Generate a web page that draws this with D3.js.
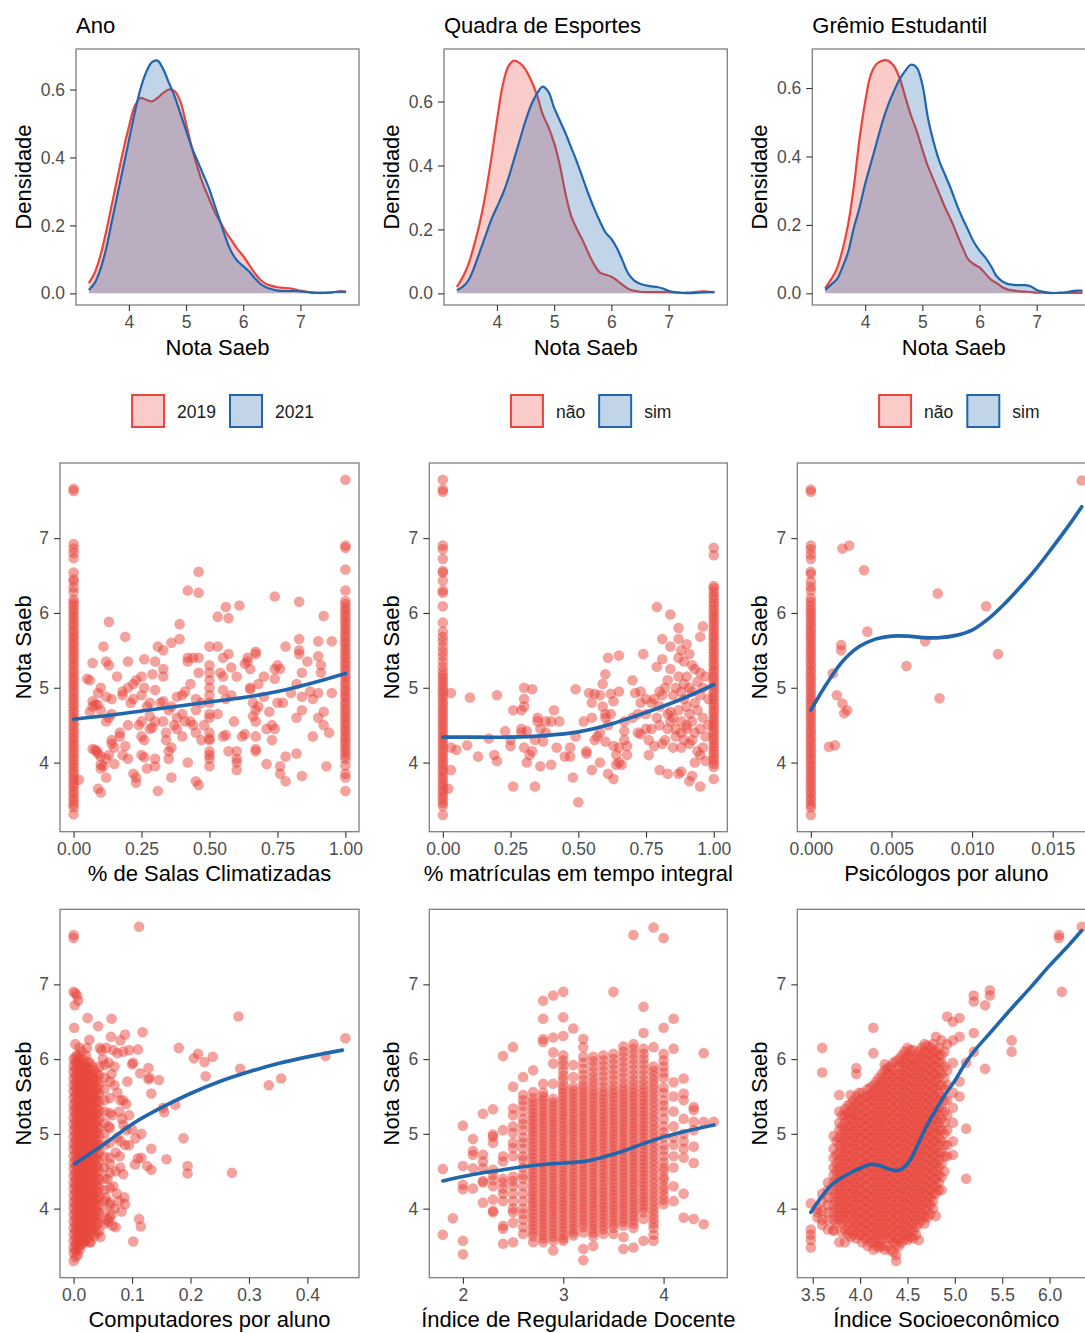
<!DOCTYPE html>
<html lang="pt">
<head>
<meta charset="UTF-8">
<title>Nota Saeb</title>
<script src="https://d3js.org/d3.v7.min.js"></script>
<style>
  body { margin: 0; background: #fff; overflow: hidden; }
  svg { display: block; font-family: "Liberation Sans", Arial, Helvetica, sans-serif; }
</style>
</head>
<body>
<script>
// ---------- data ----------

// density curves: grid of Nota Saeb and density for each group
var notaGrid = [3.3,3.4,3.5,3.6,3.7,3.8,3.9,4.0,4.1,4.2,4.3,4.4,4.5,4.6,4.7,4.8,4.9,5.0,5.1,5.2,5.3,5.4,5.5,5.6,5.7,5.8,5.9,6.0,6.1,6.2,6.3,6.4,6.5,6.6,6.7,6.8,6.9,7.0,7.1,7.2,7.3,7.4,7.5,7.6,7.7,7.8];
var dens2019 = [0.030,0.060,0.110,0.180,0.260,0.340,0.420,0.490,0.550,0.575,0.570,0.565,0.575,0.590,0.600,0.595,0.565,0.500,0.430,0.370,0.320,0.280,0.240,0.210,0.180,0.155,0.130,0.110,0.085,0.060,0.040,0.028,0.022,0.018,0.016,0.015,0.012,0.008,0.005,0.003,0.002,0.002,0.002,0.004,0.006,0.005];
var dens2021 = [0.010,0.030,0.070,0.130,0.210,0.290,0.370,0.450,0.530,0.600,0.650,0.680,0.685,0.660,0.620,0.580,0.530,0.480,0.430,0.390,0.350,0.310,0.260,0.210,0.160,0.120,0.095,0.080,0.065,0.045,0.028,0.018,0.012,0.008,0.007,0.007,0.007,0.006,0.004,0.002,0.001,0.001,0.002,0.004,0.005,0.004];
var quadraNao = [0.020,0.050,0.090,0.150,0.220,0.310,0.420,0.540,0.650,0.710,0.728,0.720,0.700,0.665,0.620,0.560,0.520,0.470,0.400,0.310,0.240,0.200,0.165,0.125,0.090,0.065,0.058,0.052,0.040,0.026,0.014,0.008,0.005,0.004,0.004,0.004,0.004,0.004,0.003,0.002,0.002,0.003,0.005,0.006,0.005,0.004];
var quadraSim = [0.010,0.020,0.040,0.080,0.130,0.180,0.230,0.270,0.310,0.360,0.420,0.480,0.540,0.590,0.625,0.647,0.630,0.580,0.540,0.500,0.455,0.410,0.360,0.310,0.265,0.225,0.190,0.170,0.140,0.100,0.060,0.040,0.030,0.025,0.022,0.020,0.015,0.008,0.004,0.002,0.001,0.001,0.002,0.003,0.004,0.004];
var gremioNao = [0.015,0.040,0.070,0.125,0.200,0.310,0.450,0.560,0.640,0.670,0.680,0.680,0.665,0.630,0.575,0.520,0.475,0.420,0.370,0.330,0.290,0.250,0.215,0.175,0.135,0.100,0.085,0.076,0.058,0.040,0.030,0.018,0.011,0.008,0.006,0.005,0.004,0.002,0.002,0.001,0.001,0.001,0.001,0.001,0.001,0.001];
var gremioSim = [0.010,0.025,0.040,0.075,0.120,0.190,0.250,0.320,0.380,0.440,0.500,0.550,0.590,0.625,0.650,0.668,0.660,0.610,0.510,0.440,0.385,0.345,0.305,0.260,0.220,0.185,0.150,0.125,0.105,0.080,0.050,0.035,0.027,0.025,0.024,0.024,0.020,0.010,0.005,0.002,0.001,0.002,0.003,0.006,0.008,0.008];

var densTitles = ["Ano", "Quadra de Esportes", "Grêmio Estudantil"];
var densLevels = [["2019", "2021"], ["não", "sim"], ["não", "sim"]];

// tick labels
var densXTicks = [4, 5, 6, 7];
var densYTicks = [0, 0.2, 0.4, 0.6];
var notaTicks = [4, 5, 6, 7];
var fracTicks = [0, 0.25, 0.5, 0.75, 1];
var psicTicks = [0, 0.005, 0.01, 0.015];
var compTicks = [0, 0.1, 0.2, 0.3, 0.4];
var regTicks = [2, 3, 4];
var iseTicks = [3.5, 4.0, 4.5, 5.0, 5.5, 6.0];

// % de Salas Climatizadas
var salasAt0 = [3.31,3.40,3.44,3.49,3.53,3.58,3.62,3.67,3.71,3.76,3.80,3.85,3.89,3.94,3.98,4.03,4.07,4.12,4.16,4.21,4.25,4.30,4.34,4.39,4.43,4.48,4.52,4.57,4.61,4.66,4.70,4.75,4.79,4.84,4.88,4.93,4.97,5.02,5.06,5.11,5.15,5.20,5.24,5.29,5.33,5.38,5.42,5.47,5.51,5.56,5.60,5.65,5.69,5.74,5.78,5.83,5.87,5.92,5.96,6.01,6.05,6.10,6.14,6.18,6.28,6.34,6.42,6.45,6.54,6.73,6.80,6.86,6.92,7.63,7.66];
var salasAt1 = [3.62,3.80,3.85,3.96,4.05,4.09,4.14,4.18,4.23,4.27,4.32,4.36,4.41,4.45,4.50,4.54,4.59,4.63,4.68,4.72,4.77,4.81,4.86,4.90,4.95,4.99,5.04,5.08,5.13,5.17,5.22,5.26,5.31,5.35,5.40,5.44,5.49,5.53,5.58,5.62,5.67,5.71,5.76,5.80,5.85,5.89,5.94,5.98,6.03,6.07,6.12,6.16,6.30,6.58,6.87,6.90,7.78];
var salasMid = [[0.02,3.77],[0.05,5.12],[0.06,5.10],[0.06,4.68],[0.07,4.82],[0.07,4.75],[0.07,4.18],[0.08,4.17],[0.085,4.15],[0.09,4.12],[0.10,4.08],[0.09,3.65],[0.10,3.60],[0.07,5.33],[0.09,4.93],[0.10,5.00],[0.09,4.77],[0.08,4.78],[0.10,4.70],[0.10,3.97],[0.11,3.95],[0.10,3.92],[0.12,5.35],[0.13,5.30],[0.11,5.55],[0.12,4.05],[0.13,4.10],[0.12,4.55],[0.13,4.60],[0.14,4.65],[0.12,4.88],[0.14,4.85],[0.13,5.88],[0.14,4.30],[0.14,4.25],[0.12,3.80],[0.15,4.20],[0.16,5.15],[0.15,3.98],[0.17,4.35],[0.17,4.40],[0.18,4.90],[0.18,4.95],[0.19,5.68],[0.19,4.22],[0.20,5.35],[0.18,4.10],[0.20,4.05],[0.21,4.80],[0.22,4.85],[0.22,5.05],[0.20,5.00],[0.23,5.10],[0.20,4.50],[0.22,3.85],[0.23,3.80],[0.23,3.73],[0.25,4.55],[0.24,4.50],[0.25,4.90],[0.26,5.00],[0.25,5.15],[0.26,5.38],[0.25,4.10],[0.26,4.07],[0.25,4.35],[0.26,4.30],[0.27,4.75],[0.28,4.80],[0.28,4.62],[0.27,3.92],[0.29,5.18],[0.28,4.45],[0.29,4.47],[0.30,4.97],[0.30,4.55],[0.30,5.35],[0.31,5.55],[0.30,3.95],[0.30,4.05],[0.31,3.62],[0.32,4.80],[0.33,4.82],[0.33,5.25],[0.33,5.15],[0.33,5.50],[0.33,4.55],[0.34,4.40],[0.34,4.30],[0.35,4.15],[0.35,4.05],[0.36,4.20],[0.36,3.80],[0.36,5.60],[0.35,4.70],[0.36,4.75],[0.37,4.50],[0.38,4.45],[0.38,4.88],[0.39,5.85],[0.39,5.65],[0.38,4.60],[0.40,4.65],[0.40,4.90],[0.40,4.35],[0.41,4.55],[0.41,4.95],[0.42,5.35],[0.42,5.40],[0.42,6.30],[0.42,4.00],[0.43,5.05],[0.43,4.55],[0.44,5.40],[0.44,4.50],[0.45,3.75],[0.45,4.40],[0.45,4.70],[0.45,4.85],[0.46,5.40],[0.46,5.20],[0.46,6.27],[0.46,6.55],[0.46,3.70],[0.47,4.80],[0.47,4.30],[0.48,4.50],[0.50,4.80],[0.50,5.00],[0.50,5.10],[0.50,5.20],[0.50,5.30],[0.50,5.55],[0.50,4.10],[0.50,4.15],[0.50,4.30],[0.50,4.32],[0.50,3.95],[0.50,4.05],[0.50,4.60],[0.50,4.65],[0.50,4.40],[0.50,4.90],[0.53,4.65],[0.53,5.55],[0.53,5.95],[0.54,5.20],[0.55,5.15],[0.55,5.40],[0.55,4.97],[0.56,4.85],[0.56,4.37],[0.55,4.35],[0.56,6.08],[0.57,5.93],[0.57,5.45],[0.57,4.15],[0.58,5.27],[0.58,4.90],[0.59,4.55],[0.60,5.15],[0.60,4.15],[0.60,4.05],[0.60,4.00],[0.60,3.90],[0.61,6.10],[0.62,4.35],[0.63,4.38],[0.63,5.32],[0.64,5.35],[0.64,5.40],[0.65,5.00],[0.65,4.98],[0.65,5.25],[0.66,4.80],[0.66,4.62],[0.67,5.48],[0.67,5.45],[0.67,4.70],[0.67,4.55],[0.67,4.35],[0.67,4.18],[0.67,4.15],[0.68,4.75],[0.68,5.05],[0.70,4.88],[0.70,5.15],[0.71,4.45],[0.71,3.98],[0.72,4.68],[0.73,4.30],[0.73,4.50],[0.74,6.22],[0.74,5.25],[0.74,5.12],[0.74,4.45],[0.75,5.30],[0.75,4.80],[0.76,3.95],[0.76,3.85],[0.76,5.25],[0.77,4.80],[0.78,3.75],[0.78,5.55],[0.78,4.08],[0.80,4.93],[0.82,5.05],[0.82,4.60],[0.82,4.12],[0.83,6.15],[0.83,5.65],[0.83,5.50],[0.83,5.45],[0.84,5.20],[0.84,4.88],[0.84,4.70],[0.84,3.82],[0.86,5.35],[0.87,4.95],[0.88,4.85],[0.88,4.35],[0.90,5.62],[0.90,5.42],[0.90,4.93],[0.90,4.60],[0.91,5.30],[0.91,5.20],[0.92,5.96],[0.92,4.68],[0.92,4.50],[0.93,3.95],[0.94,4.40],[0.95,5.62],[0.95,4.93]];
var salasSmoothX = [0, 0.125, 0.25, 0.375, 0.5, 0.625, 0.75, 0.875, 1];
var salasSmoothY = [4.58, 4.63, 4.69, 4.75, 4.81, 4.87, 4.95, 5.06, 5.19];

// % matrículas em tempo integral
var integAt0 = [3.30,3.42,3.46,3.51,3.55,3.60,3.64,3.69,3.73,3.78,3.82,3.87,3.91,3.96,4.00,4.05,4.09,4.14,4.18,4.23,4.27,4.32,4.36,4.41,4.45,4.50,4.54,4.59,4.63,4.68,4.72,4.77,4.81,4.86,4.90,4.95,4.99,5.04,5.08,5.13,5.17,5.22,5.28,5.35,5.42,5.48,5.55,5.62,5.68,5.75,5.87,6.09,6.27,6.30,6.43,6.54,6.56,6.72,6.85,6.90,7.62,7.65,7.78];
var integAt1 = [3.78,3.94,3.98,4.03,4.07,4.12,4.16,4.21,4.25,4.30,4.34,4.39,4.43,4.48,4.52,4.57,4.61,4.66,4.70,4.75,4.79,4.84,4.88,4.93,4.97,5.02,5.06,5.11,5.15,5.20,5.24,5.29,5.33,5.38,5.42,5.47,5.51,5.56,5.60,5.65,5.69,5.74,5.78,5.83,5.87,5.92,5.96,6.01,6.05,6.10,6.14,6.19,6.23,6.28,6.33,6.36,6.77,6.87];
var integMid = [[0.03,4.93],[0.03,4.20],[0.05,4.17],[0.03,3.90],[0.02,3.65],[0.09,4.23],[0.10,4.87],[0.13,4.08],[0.17,4.32],[0.19,4.10],[0.20,4.02],[0.20,4.90],[0.23,4.42],[0.25,4.30],[0.25,4.22],[0.26,4.70],[0.26,3.68],[0.29,4.40],[0.29,4.45],[0.29,4.70],[0.30,4.85],[0.30,4.75],[0.30,4.20],[0.31,4.42],[0.31,4.00],[0.32,4.10],[0.33,4.15],[0.34,4.30],[0.33,4.98],[0.30,5.00],[0.34,3.68],[0.35,4.55],[0.35,4.60],[0.36,4.45],[0.36,3.95],[0.37,4.28],[0.38,4.40],[0.38,4.55],[0.40,4.55],[0.40,3.97],[0.41,4.70],[0.42,4.20],[0.43,4.55],[0.45,4.08],[0.47,4.20],[0.47,4.08],[0.48,3.80],[0.49,4.35],[0.49,4.98],[0.50,3.47],[0.52,4.55],[0.53,4.15],[0.53,4.12],[0.54,4.93],[0.55,4.60],[0.55,4.80],[0.55,3.90],[0.56,4.30],[0.56,4.92],[0.57,4.35],[0.58,4.40],[0.58,4.90],[0.58,4.00],[0.59,4.75],[0.59,5.05],[0.60,4.60],[0.60,4.28],[0.60,5.18],[0.60,4.65],[0.61,4.50],[0.61,3.85],[0.61,5.40],[0.62,4.65],[0.62,4.92],[0.63,4.82],[0.63,4.22],[0.63,3.78],[0.64,4.10],[0.64,3.97],[0.65,4.20],[0.65,4.00],[0.65,4.95],[0.65,5.43],[0.66,3.97],[0.67,4.55],[0.67,4.42],[0.67,4.30],[0.68,4.22],[0.68,4.10],[0.70,4.60],[0.70,5.10],[0.71,4.93],[0.72,4.40],[0.72,4.65],[0.73,4.80],[0.73,4.38],[0.73,4.95],[0.74,5.45],[0.75,4.85],[0.75,4.65],[0.75,4.45],[0.76,4.10],[0.76,4.30],[0.77,4.80],[0.77,4.45],[0.78,4.22],[0.78,4.85],[0.79,5.28],[0.79,6.08],[0.79,4.60],[0.80,4.50],[0.80,4.75],[0.80,4.95],[0.80,3.90],[0.81,5.38],[0.81,5.65],[0.81,4.90],[0.81,4.25],[0.82,5.00],[0.82,4.30],[0.83,5.10],[0.83,4.65],[0.83,4.45],[0.83,3.85],[0.84,5.98],[0.84,5.55],[0.84,5.25],[0.84,4.68],[0.84,4.55],[0.85,4.90],[0.85,4.60],[0.85,4.20],[0.86,5.00],[0.86,4.45],[0.86,4.35],[0.87,5.80],[0.87,5.65],[0.87,5.40],[0.87,5.15],[0.87,4.70],[0.87,3.85],[0.88,5.50],[0.88,4.95],[0.88,4.55],[0.88,4.40],[0.88,4.20],[0.88,3.88],[0.89,5.35],[0.89,5.05],[0.89,4.85],[0.89,4.30],[0.90,5.58],[0.90,5.15],[0.90,4.75],[0.90,4.50],[0.90,4.45],[0.91,5.45],[0.91,5.00],[0.91,4.65],[0.91,4.25],[0.91,3.75],[0.92,5.30],[0.92,4.95],[0.92,4.55],[0.92,4.30],[0.92,3.82],[0.93,5.25],[0.93,4.80],[0.93,4.40],[0.93,4.00],[0.94,5.08],[0.94,4.70],[0.94,4.15],[0.95,5.68],[0.95,5.20],[0.95,4.90],[0.95,4.45],[0.95,4.10],[0.95,3.68],[0.96,5.82],[0.96,5.00],[0.96,4.60],[0.96,4.20],[0.97,5.15],[0.97,4.35],[0.98,4.85],[0.98,4.50],[0.97,4.02]];
var integSmoothX = [0, 0.125, 0.25, 0.375, 0.5, 0.625, 0.75, 0.875, 1];
var integSmoothY = [4.34, 4.34, 4.34, 4.36, 4.41, 4.52, 4.67, 4.84, 5.04];

// Psicólogos por aluno
var psicAt0 = [3.30,3.40,3.44,3.49,3.53,3.58,3.62,3.67,3.71,3.76,3.80,3.85,3.89,3.94,3.98,4.03,4.07,4.12,4.16,4.21,4.25,4.30,4.34,4.39,4.43,4.48,4.52,4.57,4.61,4.66,4.70,4.75,4.79,4.84,4.88,4.93,4.97,5.02,5.06,5.11,5.15,5.20,5.24,5.29,5.33,5.38,5.42,5.47,5.51,5.56,5.60,5.65,5.69,5.74,5.78,5.83,5.87,5.92,5.96,6.01,6.05,6.10,6.15,6.20,6.30,6.35,6.42,6.52,6.55,6.72,6.78,6.85,6.90,7.62,7.65];
var psicMid = [[0.00112,4.21],[0.00149,4.23],[0.00136,5.19],[0.00161,4.90],[0.00196,4.79],[0.00207,4.66],[0.00225,4.70],[0.00188,5.57],[0.00188,5.50],[0.00196,6.86],[0.00238,6.90],[0.0033,6.57],[0.0035,5.75],[0.00593,5.29],[0.00709,5.62],[0.00787,6.26],[0.00798,4.86],[0.01087,6.09],[0.01161,5.45],[0.0168,7.77]];
var psicSmoothX = [0, 0.001, 0.002, 0.003, 0.004, 0.005, 0.006, 0.007, 0.008, 0.009, 0.010, 0.011, 0.012, 0.013, 0.014, 0.015, 0.016, 0.0168];
var psicSmoothY = [4.70, 5.06, 5.36, 5.55, 5.65, 5.69, 5.69, 5.67, 5.67, 5.70, 5.77, 5.92, 6.12, 6.35, 6.60, 6.88, 7.17, 7.42];

// Computadores por aluno: dense core near zero, read column by column
var compCore = [
  [0.000, [3.30,3.41,3.48,3.57,3.66,3.74,3.83,3.92,4.01,4.09,4.18,4.27,4.35,4.44,4.53,4.61,4.70,4.79,4.87,4.96,5.05,5.13,5.22,5.31,5.39,5.48,5.57,5.65,5.74,5.83,5.91,6.00]],
  [0.0035, [3.35,3.44,3.52,3.61,3.70,3.78,3.87,3.96,4.05,4.13,4.22,4.31,4.39,4.48,4.57,4.65,4.74,4.83,4.91,5.00,5.09,5.17,5.26,5.35,5.43,5.52,5.61,5.69,5.78,5.87,5.95,6.03]],
  [0.007, [3.38,3.47,3.55,3.64,3.73,3.81,3.90,3.99,4.07,4.16,4.25,4.33,4.42,4.51,4.59,4.68,4.77,4.85,4.94,5.03,5.11,5.20,5.29,5.37,5.46,5.55,5.63,5.72,5.81,5.89,5.98,6.06]],
  [0.0105, [3.45,3.51,3.60,3.69,3.77,3.86,3.95,4.03,4.12,4.21,4.29,4.38,4.47,4.55,4.64,4.73,4.81,4.90,4.99,5.07,5.16,5.25,5.33,5.42,5.51,5.59,5.68,5.77,5.85,5.94,6.02]],
  [0.014, [3.52,3.60,3.69,3.78,3.86,3.95,4.04,4.12,4.21,4.30,4.38,4.47,4.56,4.64,4.73,4.82,4.90,4.99,5.08,5.16,5.25,5.34,5.42,5.51,5.60,5.68,5.77,5.86,5.94,6.10]],
  [0.0175, [3.55,3.64,3.73,3.82,3.90,3.99,4.08,4.16,4.25,4.34,4.42,4.51,4.60,4.68,4.77,4.86,4.94,5.03,5.12,5.20,5.29,5.38,5.46,5.55,5.64,5.72,5.81,5.90,5.98]],
  [0.021, [3.57,3.65,3.74,3.83,3.91,4.00,4.09,4.17,4.26,4.35,4.43,4.52,4.61,4.69,4.78,4.87,4.95,5.04,5.13,5.21,5.30,5.39,5.47,5.56,5.65,5.73,5.82,5.91,6.05]],
  [0.0245, [3.60,3.70,3.79,3.87,3.96,4.05,4.13,4.22,4.31,4.39,4.48,4.57,4.65,4.74,4.83,4.91,5.00,5.09,5.17,5.26,5.35,5.43,5.52,5.61,5.69,5.78,5.87,5.96]],
  [0.028, [3.55,3.68,3.77,3.86,3.94,4.03,4.12,4.20,4.29,4.38,4.46,4.55,4.64,4.72,4.81,4.90,4.98,5.07,5.16,5.24,5.33,5.42,5.50,5.59,5.68,5.76,5.85,5.95]],
  [0.032, [3.66,3.72,3.81,3.90,3.98,4.07,4.16,4.24,4.33,4.42,4.50,4.59,4.68,4.76,4.85,4.94,5.02,5.11,5.20,5.28,5.37,5.46,5.54,5.63,5.72,5.80,5.90]],
  [0.036, [3.63,3.75,3.84,3.92,4.01,4.10,4.18,4.27,4.36,4.44,4.53,4.62,4.70,4.79,4.88,4.96,5.05,5.14,5.22,5.31,5.40,5.48,5.57,5.66,5.74,5.85]],
  [0.040, [3.68,3.79,3.88,3.97,4.05,4.14,4.23,4.31,4.40,4.49,4.57,4.66,4.75,4.83,4.92,5.01,5.09,5.18,5.27,5.35,5.44,5.53,5.61,5.70,5.80]],
  [0.044, [3.70,3.82,3.93,4.05,4.16,4.28,4.39,4.51,4.62,4.74,4.85,4.97,5.08,5.20,5.31,5.43,5.54,5.66,5.78,5.90]],
  [0.053, [3.80,3.95,4.10,4.25,4.40,4.55,4.70,4.85,5.00,5.15,5.30,5.45,5.60,5.75,5.92]],
  [0.062, [3.88,4.08,4.28,4.48,4.68,4.88,5.08,5.28,5.48,5.70]]
];
var compMid = [[0.112,7.77],[0.003,6.88],[0.006,6.85],[0.008,6.78],[0.002,6.72],[0.001,6.42],[0.024,6.55],[0.042,6.44],[0.065,6.54],[0.064,6.30],[0.088,6.33],[0.118,6.36],[0.027,6.26],[0.003,6.20],[0.010,6.15],[0.023,6.15],[0.045,6.15],[0.048,6.12],[0.056,6.15],[0.068,6.12],[0.075,6.08],[0.080,6.25],[0.085,6.10],[0.095,6.12],[0.110,6.13],[0.102,5.95],[0.100,5.93],[0.114,5.81],[0.128,5.88],[0.130,5.75],[0.128,5.73],[0.146,5.72],[0.133,5.54],[0.153,5.35],[0.155,5.29],[0.174,5.39],[0.180,6.15],[0.206,6.01],[0.213,6.07],[0.224,5.96],[0.238,6.03],[0.226,5.77],[0.282,6.57],[0.285,5.87],[0.334,5.65],[0.355,5.74],[0.431,6.04],[0.465,6.28],[0.188,4.94],[0.159,4.66],[0.133,4.80],[0.126,4.57],[0.133,4.52],[0.195,4.57],[0.195,4.47],[0.271,4.48],[0.116,4.68],[0.110,4.67],[0.105,4.59],[0.116,5.00],[0.106,4.94],[0.100,5.06],[0.095,4.85],[0.085,4.46],[0.087,4.15],[0.088,4.06],[0.082,3.96],[0.112,3.86],[0.115,3.76],[0.102,3.56],[0.067,3.77],[0.072,3.75],[0.060,3.82],[0.046,3.62],[0.029,3.55],[0.018,3.57],[0.070,5.65],[0.075,5.55],[0.080,5.45],[0.085,5.45],[0.078,5.30],[0.083,5.20],[0.085,5.12],[0.090,5.05],[0.075,4.95],[0.080,4.90],[0.072,4.75],[0.079,4.70],[0.080,4.55],[0.072,4.50],[0.068,4.30],[0.074,4.20],[0.078,4.10],[0.070,4.00],[0.065,3.92],[0.058,3.85],[0.065,5.80],[0.060,5.95],[0.070,5.90],[0.050,6.00],[0.092,5.70],[0.090,5.40],[0.095,5.25],[0.066,5.25],[0.060,5.10],[0.088,4.85],[0.062,4.60],[0.058,4.40],[0.055,4.15],[0.062,4.05],[0.000,7.62],[0.000,7.66],[0.000,6.90]];
var compSmoothX = [0.002, 0.05, 0.1, 0.15, 0.2, 0.25, 0.3, 0.35, 0.4, 0.46];
var compSmoothY = [4.60, 4.85, 5.13, 5.35, 5.54, 5.70, 5.83, 5.94, 6.03, 6.12];

// Índice de Regularidade Docente (values come in steps of 0.1)
var regCols = [
  [1.8, [4.53,3.65]],
  [1.9, [3.87]],
  [2.0, [5.11,4.57,4.32,4.26,3.57,3.39]],
  [2.1, [4.93,4.77,4.72,4.54,4.27]],
  [2.2, [5.27,4.72,4.63,4.54,4.37,4.35,4.08]],
  [2.3, [5.33,4.99,4.96,4.88,4.52,4.45,4.38,4.30,4.12,3.97,3.95]],
  [2.4, [6.04,5.05,4.70,4.63,4.40,4.35,4.27,4.20,4.10,3.77,3.73,3.53]],
  [2.5, [6.16,5.63,5.34,5.25,5.10,5.01,4.88,4.81,4.70,4.43,4.37,4.30,4.20,4.10,4.00,3.95,3.81,3.55]],
  [2.6, [5.76,5.52,5.45,5.38,5.30,5.20,5.13,5.05,4.95,4.88,4.80,4.70,4.65,4.55,4.45,4.40,4.30,4.20,4.10,4.00,3.93,3.85,3.75,3.66]],
  [2.7, [5.85,5.56,5.48,5.43,5.38,5.33,5.28,5.23,5.18,5.13,5.08,5.03,4.98,4.93,4.88,4.83,4.78,4.73,4.68,4.63,4.58,4.53,4.48,4.43,4.38,4.33,4.28,4.23,4.18,4.13,4.08,4.03,3.98,3.93,3.88,3.83,3.78,3.73,3.68,3.63,3.55]],
  [2.8, [6.78,6.54,6.27,6.23,5.67,5.55,5.50,5.45,5.40,5.35,5.30,5.25,5.20,5.15,5.10,5.05,5.00,4.95,4.90,4.85,4.80,4.75,4.70,4.65,4.60,4.55,4.50,4.45,4.40,4.35,4.30,4.25,4.20,4.15,4.10,4.05,4.00,3.95,3.90,3.85,3.80,3.75,3.70,3.65,3.60,3.55]],
  [2.9, [6.85,6.29,6.09,5.94,5.67,5.47,5.42,5.37,5.32,5.27,5.22,5.17,5.12,5.07,5.02,4.97,4.92,4.87,4.82,4.77,4.72,4.67,4.62,4.57,4.52,4.47,4.42,4.37,4.32,4.27,4.22,4.17,4.12,4.07,4.02,3.97,3.92,3.87,3.82,3.77,3.72,3.67,3.62,3.57,3.44]],
  [3.0, [6.90,6.56,6.31,6.05,5.98,5.92,5.85,5.78,5.72,5.65,5.60,5.55,5.50,5.45,5.40,5.35,5.30,5.25,5.20,5.15,5.10,5.05,5.00,4.95,4.90,4.85,4.80,4.75,4.70,4.65,4.60,4.55,4.50,4.45,4.40,4.35,4.30,4.25,4.20,4.15,4.10,4.05,4.00,3.95,3.90,3.85,3.80,3.75,3.70,3.65,3.60,3.57]],
  [3.1, [6.41,5.92,5.76,5.63,5.58,5.53,5.48,5.43,5.38,5.33,5.28,5.23,5.18,5.13,5.08,5.03,4.98,4.93,4.88,4.83,4.78,4.73,4.68,4.63,4.58,4.53,4.48,4.43,4.38,4.33,4.28,4.23,4.18,4.13,4.08,4.03,3.98,3.93,3.88,3.83,3.78,3.73,3.68,3.64]],
  [3.2, [6.27,6.16,6.03,5.95,5.87,5.79,5.72,5.65,5.60,5.55,5.50,5.45,5.40,5.35,5.30,5.25,5.20,5.15,5.10,5.05,5.00,4.95,4.90,4.85,4.80,4.75,4.70,4.65,4.60,4.55,4.50,4.45,4.40,4.35,4.30,4.25,4.20,4.15,4.10,4.05,4.00,3.95,3.90,3.85,3.80,3.75,3.68,3.46,3.31]],
  [3.3, [6.03,5.97,5.90,5.83,5.76,5.70,5.64,5.58,5.53,5.48,5.43,5.38,5.33,5.28,5.23,5.18,5.13,5.08,5.03,4.98,4.93,4.88,4.83,4.78,4.73,4.68,4.63,4.58,4.53,4.48,4.43,4.38,4.33,4.28,4.23,4.18,4.13,4.08,4.03,3.98,3.93,3.88,3.83,3.78,3.73,3.68,3.63,3.50]],
  [3.4, [6.05,5.98,5.91,5.84,5.77,5.70,5.63,5.57,5.52,5.47,5.42,5.37,5.32,5.27,5.22,5.17,5.12,5.07,5.02,4.97,4.92,4.87,4.82,4.77,4.72,4.67,4.62,4.57,4.52,4.47,4.42,4.37,4.32,4.27,4.22,4.17,4.12,4.07,4.02,3.97,3.92,3.87,3.82,3.77,3.72,3.66]],
  [3.5, [6.90,6.07,6.00,5.93,5.86,5.79,5.72,5.65,5.59,5.54,5.49,5.44,5.39,5.34,5.29,5.24,5.19,5.14,5.09,5.04,4.99,4.94,4.89,4.84,4.79,4.74,4.69,4.64,4.59,4.54,4.49,4.44,4.39,4.34,4.29,4.24,4.19,4.14,4.09,4.04,3.99,3.94,3.89,3.84,3.79,3.74,3.66]],
  [3.6, [6.17,6.10,6.03,5.96,5.89,5.82,5.75,5.68,5.62,5.57,5.52,5.47,5.42,5.37,5.32,5.27,5.22,5.17,5.12,5.07,5.02,4.97,4.92,4.87,4.82,4.77,4.72,4.67,4.62,4.57,4.52,4.47,4.42,4.37,4.32,4.27,4.22,4.17,4.12,4.07,4.02,3.97,3.92,3.87,3.82,3.77,3.62,3.46]],
  [3.7, [7.66,6.20,6.14,6.07,6.00,5.93,5.86,5.79,5.72,5.66,5.60,5.55,5.50,5.45,5.40,5.35,5.30,5.25,5.20,5.15,5.10,5.05,5.00,4.95,4.90,4.85,4.80,4.75,4.70,4.65,4.60,4.55,4.50,4.45,4.40,4.35,4.30,4.25,4.20,4.15,4.10,4.05,4.00,3.95,3.90,3.85,3.80,3.74,3.48]],
  [3.8, [6.70,6.35,6.14,6.07,6.00,5.93,5.86,5.79,5.72,5.66,5.60,5.55,5.50,5.45,5.40,5.35,5.30,5.25,5.20,5.15,5.10,5.05,5.00,4.95,4.90,4.85,4.80,4.75,4.70,4.65,4.60,4.55,4.50,4.45,4.40,4.35,4.30,4.25,4.20,4.15,4.10,4.05,4.00,3.95,3.86,3.57]],
  [3.9, [7.76,6.16,5.90,5.84,5.78,5.72,5.66,5.60,5.54,5.48,5.42,5.36,5.30,5.24,5.18,5.12,5.06,5.00,4.94,4.88,4.82,4.76,4.70,4.64,4.58,4.52,4.46,4.40,4.34,4.28,4.22,4.16,4.10,4.04,3.98,3.92,3.86,3.80,3.74,3.65,3.57]],
  [4.0, [7.62,6.42,6.07,5.98,5.90,5.82,5.75,5.62,5.55,5.45,5.38,5.30,5.20,5.10,5.02,4.95,4.85,4.78,4.70,4.62,4.55,4.50,4.42,4.38,4.30,4.25,4.18,4.12,4.06]],
  [4.1, [6.54,6.14,5.69,5.50,5.30,5.10,4.95,4.85,4.70,4.55,4.30,4.10]],
  [4.2, [5.74,5.54,5.45,5.20,5.00,4.90,4.80,4.68,4.20,3.88]],
  [4.3, [5.36,5.32,5.16,5.05,4.83,4.61,3.86]],
  [4.4, [6.08,5.16,3.79]],
  [4.5, [5.16]]
];
var regSmoothX = [1.8, 2.0, 2.2, 2.4, 2.6, 2.8, 3.0, 3.2, 3.4, 3.6, 3.8, 4.0, 4.2, 4.5];
var regSmoothY = [4.37, 4.43, 4.48, 4.52, 4.56, 4.59, 4.61, 4.63, 4.69, 4.77, 4.87, 4.96, 5.03, 5.12];

// Índice Socioeconômico, read column by column across the cloud
var iseCols = [
  [3.48, [4.07,3.72,3.65,3.58,3.48]],
  [3.55, [3.95,3.88,4.00]],
  [3.60, [6.15,5.82,4.20,4.10,3.97,3.85,3.78]],
  [3.66, [4.35,4.25,4.15,4.05,3.95,3.85,3.72]],
  [3.72, [4.97,4.80,4.68,4.55,4.45,4.35,4.25,4.15,4.05,3.95,3.85,3.72,3.70]],
  [3.75, [4.90,4.72,4.60,4.50,4.40,4.30,4.20,4.10,4.00,3.90,3.80]],
  [3.78, [5.52,5.30,5.15,5.05,4.95,4.85,4.75,4.65,4.55,4.45,4.35,4.25,4.15,4.05,3.95,3.85,3.55]],
  [3.81, [5.25,5.10,5.00,4.90,4.80,4.70,4.60,4.50,4.40,4.30,4.20,4.10,4.00,3.90,3.80,3.68]],
  [3.84, [5.33,5.25,5.15,5.05,4.95,4.85,4.75,4.65,4.55,4.45,4.35,4.25,4.15,4.05,3.95,3.85,3.72,3.55]],
  [3.87, [5.38,5.28,5.20,5.10,5.00,4.90,4.80,4.70,4.60,4.50,4.40,4.30,4.20,4.10,4.00,3.90,3.78,3.66]],
  [3.90, [5.52,5.40,5.30,5.20,5.10,5.00,4.90,4.80,4.70,4.60,4.50,4.40,4.30,4.20,4.10,4.00,3.90,3.80,3.70,3.62]],
  [3.93, [5.45,5.35,5.25,5.15,5.05,4.95,4.85,4.75,4.65,4.55,4.45,4.35,4.25,4.15,4.05,3.95,3.85,3.75,3.65]],
  [3.96, [5.88,5.80,5.50,5.40,5.30,5.20,5.10,5.00,4.90,4.80,4.70,4.60,4.50,4.40,4.30,4.20,4.10,4.00,3.90,3.80,3.70,3.60]],
  [3.99, [5.55,5.45,5.35,5.25,5.15,5.05,4.95,4.85,4.75,4.65,4.55,4.45,4.35,4.25,4.15,4.05,3.95,3.85,3.75,3.65]],
  [4.02, [5.55,5.45,5.35,5.25,5.15,5.05,4.95,4.85,4.75,4.65,4.55,4.45,4.35,4.25,4.15,4.05,3.95,3.85,3.75,3.65,3.55]],
  [4.05, [5.50,5.40,5.30,5.20,5.10,5.00,4.90,4.80,4.70,4.60,4.50,4.40,4.30,4.20,4.10,4.00,3.90,3.80,3.70,3.60]],
  [4.08, [5.60,5.50,5.40,5.30,5.20,5.10,5.00,4.90,4.80,4.70,4.60,4.50,4.40,4.30,4.20,4.10,4.00,3.90,3.80,3.70,3.60,3.50]],
  [4.11, [5.62,5.52,5.45,5.35,5.25,5.15,5.05,4.95,4.85,4.75,4.65,4.55,4.45,4.35,4.25,4.15,4.05,3.95,3.85,3.75,3.65,3.55]],
  [4.14, [6.42,6.08,5.65,5.55,5.45,5.35,5.25,5.15,5.05,4.95,4.85,4.75,4.65,4.55,4.45,4.35,4.25,4.15,4.05,3.95,3.85,3.75,3.65,3.55,3.45]],
  [4.17, [5.70,5.60,5.50,5.40,5.30,5.20,5.10,5.00,4.90,4.80,4.70,4.60,4.50,4.40,4.30,4.20,4.10,4.00,3.90,3.80,3.70,3.60,3.50]],
  [4.20, [5.75,5.65,5.55,5.45,5.35,5.25,5.15,5.05,4.95,4.85,4.75,4.65,4.55,4.45,4.35,4.25,4.15,4.05,3.95,3.85,3.75,3.65,3.55,3.48]],
  [4.23, [5.80,5.70,5.60,5.50,5.40,5.30,5.20,5.10,5.00,4.90,4.80,4.70,4.60,4.50,4.40,4.30,4.20,4.10,4.00,3.90,3.80,3.70,3.60,3.50]],
  [4.26, [5.93,5.85,5.75,5.65,5.55,5.45,5.35,5.25,5.15,5.05,4.95,4.85,4.75,4.65,4.55,4.45,4.35,4.25,4.15,4.05,3.95,3.85,3.75,3.65,3.45]],
  [4.29, [5.88,5.80,5.70,5.60,5.50,5.40,5.30,5.20,5.10,5.00,4.90,4.80,4.70,4.60,4.50,4.40,4.30,4.20,4.10,4.00,3.90,3.80,3.70,3.60,3.50]],
  [4.32, [5.90,5.80,5.70,5.60,5.50,5.40,5.30,5.20,5.10,5.00,4.90,4.80,4.70,4.60,4.50,4.40,4.30,4.20,4.10,4.00,3.90,3.80,3.70,3.60,3.45]],
  [4.35, [5.95,5.85,5.75,5.65,5.55,5.45,5.35,5.25,5.15,5.05,4.95,4.85,4.75,4.65,4.55,4.45,4.35,4.25,4.15,4.05,3.95,3.85,3.75,3.65,3.55,3.42]],
  [4.38, [5.97,5.80,5.70,5.60,5.50,5.40,5.30,5.20,5.10,5.00,4.90,4.80,4.70,4.60,4.50,4.40,4.30,4.20,4.10,4.00,3.90,3.80,3.70,3.60,3.52,3.38,3.30]],
  [4.41, [6.00,5.90,5.80,5.70,5.60,5.50,5.40,5.30,5.20,5.10,5.00,4.90,4.80,4.70,4.60,4.50,4.40,4.30,4.20,4.10,4.00,3.90,3.80,3.70,3.60,3.50]],
  [4.44, [6.05,5.95,5.85,5.75,5.65,5.55,5.45,5.35,5.25,5.15,5.05,4.95,4.85,4.75,4.65,4.55,4.45,4.35,4.25,4.15,4.05,3.95,3.85,3.75,3.65,3.55]],
  [4.47, [6.10,6.00,5.90,5.80,5.70,5.60,5.50,5.40,5.30,5.20,5.10,5.00,4.90,4.80,4.70,4.60,4.50,4.40,4.30,4.20,4.10,4.00,3.90,3.80,3.70,3.60]],
  [4.50, [6.15,6.05,5.95,5.85,5.75,5.65,5.55,5.45,5.35,5.25,5.15,5.05,4.95,4.85,4.75,4.65,4.55,4.45,4.35,4.25,4.15,4.05,3.95,3.85,3.75,3.65,3.58]],
  [4.53, [6.12,6.02,5.92,5.82,5.72,5.62,5.52,5.42,5.32,5.22,5.12,5.02,4.92,4.82,4.72,4.62,4.52,4.42,4.32,4.22,4.12,4.02,3.92,3.82,3.72,3.62]],
  [4.56, [6.12,6.00,5.90,5.80,5.70,5.60,5.50,5.40,5.30,5.20,5.10,5.00,4.90,4.80,4.70,4.60,4.50,4.40,4.30,4.20,4.10,4.00,3.90,3.80,3.70,3.60]],
  [4.59, [6.05,5.95,5.85,5.75,5.65,5.55,5.45,5.35,5.25,5.15,5.05,4.95,4.85,4.75,4.65,4.55,4.45,4.35,4.25,4.15,4.05,3.95,3.85,3.75,3.65]],
  [4.62, [6.10,6.00,5.90,5.80,5.70,5.60,5.50,5.40,5.30,5.20,5.10,5.00,4.90,4.80,4.70,4.60,4.50,4.40,4.30,4.20,4.10,4.00,3.90,3.80,3.58]],
  [4.65, [6.15,6.05,5.95,5.85,5.75,5.65,5.55,5.45,5.35,5.25,5.15,5.05,4.95,4.85,4.75,4.65,4.55,4.45,4.35,4.25,4.15,4.05,3.95,3.85]],
  [4.68, [6.20,6.10,6.00,5.90,5.80,5.70,5.60,5.50,5.40,5.30,5.20,5.10,5.00,4.90,4.80,4.70,4.60,4.50,4.40,4.30,4.20,4.10,4.00,3.90,3.80]],
  [4.71, [6.18,6.08,5.98,5.88,5.78,5.68,5.58,5.48,5.38,5.28,5.18,5.08,4.98,4.88,4.78,4.68,4.58,4.48,4.38,4.28,4.18,4.08,3.98,3.88]],
  [4.74, [6.15,6.05,5.95,5.85,5.75,5.65,5.55,5.45,5.35,5.25,5.15,5.05,4.95,4.85,4.75,4.65,4.55,4.45,4.35,4.25,4.15,4.05,3.92]],
  [4.77, [6.20,6.10,6.00,5.90,5.80,5.70,5.60,5.50,5.40,5.30,5.20,5.10,5.00,4.90,4.80,4.70,4.60,4.50,4.40,4.30,4.20,4.10,4.00]],
  [4.80, [6.30,6.10,6.00,5.90,5.80,5.70,5.60,5.50,5.40,5.30,5.20,5.10,5.00,4.90,4.80,4.70,4.60,4.50,4.40,4.30,4.20,3.90]],
  [4.83, [6.15,6.05,5.95,5.85,5.75,5.65,5.55,5.45,5.35,5.25,5.15,5.05,4.95,4.85,4.75,4.65,4.55,4.45,4.35,4.25]],
  [4.86, [6.25,6.05,5.95,5.80,5.65,5.50,5.35,5.20,5.05,4.90,4.75,4.60,4.42,4.25]],
  [4.89, [6.10,5.90,5.75,5.60,5.45,5.30,5.15,5.00,4.85,4.70,4.50]],
  [4.92, [6.57,6.20,5.85,5.65,5.45,5.25,5.05,4.85,4.70]],
  [4.98, [6.50,6.25,5.95,5.55,5.35,5.15,4.90,4.72]],
  [5.05, [6.55,6.30,5.70,5.50]],
  [5.12, [5.95,5.07,4.40]],
  [5.20, [6.85,6.77,6.35,6.10]],
  [5.32, [6.72,5.87]],
  [5.37, [6.92,6.85]],
  [5.60, [6.25,6.10]],
  [6.10, [7.66,7.62]],
  [6.13, [6.90]],
  [6.34, [7.77]]
];
var iseSmoothX = [3.48,3.6,3.7,3.8,3.9,4.0,4.1,4.2,4.3,4.4,4.5,4.6,4.7,4.8,4.9,5.0,5.1,5.2,5.4,5.6,5.8,6.0,6.2,6.34];
var iseSmoothY = [3.95,4.17,4.32,4.41,4.48,4.54,4.59,4.58,4.53,4.51,4.60,4.83,5.10,5.32,5.53,5.71,5.92,6.10,6.39,6.68,6.96,7.25,7.52,7.72];

// ---------- drawing ----------
var RED = "#E8453C", BLUE = "#2166AC";
var svg = d3.select("body").append("svg").attr("width", 1100).attr("height", 1333);
var defs = svg.append("defs");
var clipCount = 0;

var densLeft = [76, 444, 812.3];
var scatLeft = [60, 429.3, 797.3];
var colRight = [359, 727.3, 1095.3];
var yLabelX = [30.5, 398.5, 766.5];

function expand(ext) {
  var d = ext[1] - ext[0];
  return [ext[0] - 0.05 * d, ext[1] + 0.05 * d];
}

function colPoints(x, ys) { return ys.map(function(y) { return {x: x, y: y}; }); }
function pairPoints(arr) { return arr.map(function(p) { return {x: p[0], y: p[1]}; }); }
function colsPoints(cols) {
  return [].concat.apply([], cols.map(function(cc) { return colPoints(cc[0], cc[1]); }));
}

function clipFor(l, t, r, b) {
  var id = "clip" + (clipCount++);
  defs.append("clipPath").attr("id", id).append("rect")
    .attr("x", l).attr("y", t).attr("width", r - l).attr("height", b - t);
  return "url(#" + id + ")";
}

function axes(x, y, xt, xf, yt, yf, l, b) {
  var ax = svg.append("g").attr("transform", "translate(0," + b + ")")
    .call(d3.axisBottom(x).tickValues(xt).tickFormat(xf).tickSize(6).tickPadding(5));
  var ay = svg.append("g").attr("transform", "translate(" + l + ",0)")
    .call(d3.axisLeft(y).tickValues(yt).tickFormat(yf).tickSize(6).tickPadding(5));
  [ax, ay].forEach(function(a) {
    a.attr("font-size", null).attr("font-family", null);
    a.select(".domain").remove();
    a.selectAll(".tick line").attr("stroke", "#333").attr("stroke-width", 1.1);
    a.selectAll(".tick text").attr("fill", "#4d4d4d").style("font-size", "17.5px");
  });
}

function frame(l, t, r, b) {
  svg.append("rect").attr("x", l).attr("y", t).attr("width", r - l).attr("height", b - t)
    .attr("fill", "none").attr("stroke", "#7f7f7f").attr("stroke-width", 1.3);
}

function labels(c, l, r, t, b, xlab, ylab) {
  svg.append("text").attr("x", (l + r) / 2).attr("y", b + 49.5)
    .attr("text-anchor", "middle").style("font-size", "22px").attr("fill", "#000").text(xlab);
  svg.append("text").attr("transform", "translate(" + yLabelX[c] + "," + ((t + b) / 2) + ") rotate(-90)")
    .attr("text-anchor", "middle").style("font-size", "22px").attr("fill", "#000").text(ylab);
}

// density row
var densSeries = [[dens2019, dens2021], [quadraNao, quadraSim], [gremioNao, gremioSim]];
densSeries.forEach(function(series, c) {
  var l = densLeft[c], r = colRight[c], t = 49, b = 305;
  var x = d3.scaleLinear().domain(expand(d3.extent(notaGrid))).range([l, r]);
  var maxY = d3.max(series, function(s) { return d3.max(s); });
  var y = d3.scaleLinear().domain([-0.05 * maxY, 1.05 * maxY]).range([b, t]);
  var g = svg.append("g").attr("clip-path", clipFor(l, t, r, b));
  var area = d3.area().x(function(d, i) { return x(notaGrid[i]); })
    .y0(y(0)).y1(function(d) { return y(d); }).curve(d3.curveCatmullRom);
  var line = d3.line().x(function(d, i) { return x(notaGrid[i]); })
    .y(function(d) { return y(d); }).curve(d3.curveCatmullRom);
  [RED, BLUE].forEach(function(col, k) {
    g.append("path").attr("d", area(series[k])).attr("fill", col).attr("fill-opacity", 0.28);
    g.append("path").attr("d", line(series[k])).attr("fill", "none")
      .attr("stroke", col).attr("stroke-width", 2.2);
  });
  frame(l, t, r, b);
  axes(x, y, densXTicks, d3.format("d"), densYTicks, d3.format(".1f"), l, b);
  labels(c, l, r, t, b, "Nota Saeb", "Densidade");
  svg.append("text").attr("x", l).attr("y", 33).style("font-size", "22px")
    .attr("fill", "#000").text(densTitles[c]);

  // legend
  var lg = svg.append("g");
  var t1 = lg.append("text").style("font-size", "17.5px").attr("fill", "#1a1a1a").text(densLevels[c][0]);
  var t2 = lg.append("text").style("font-size", "17.5px").attr("fill", "#1a1a1a").text(densLevels[c][1]);
  var w1 = t1.node().getComputedTextLength(), w2 = t2.node().getComputedTextLength();
  var total = 34 + 12 + w1 + 13 + 34 + 12 + w2;
  var x0 = (l + r) / 2 + 5 - total / 2, cy = 411;
  var x1 = x0 + 34 + 12 + w1 + 13;
  [[x0, RED], [x1, BLUE]].forEach(function(k) {
    lg.append("rect").attr("x", k[0] + 1).attr("y", cy - 16).attr("width", 32).attr("height", 32)
      .attr("fill", k[1]).attr("fill-opacity", 0.28).attr("stroke", k[1]).attr("stroke-width", 2);
  });
  t1.attr("x", x0 + 46).attr("y", cy + 6.5);
  t2.attr("x", x1 + 46).attr("y", cy + 6.5);
});

// scatter panels
var scatPanels = [
  {c: 0, row: 0, pts: colPoints(0, salasAt0).concat(colPoints(1, salasAt1), pairPoints(salasMid)),
   sx: salasSmoothX, sy: salasSmoothY, ticks: fracTicks, fmt: d3.format(".2f"), xlab: "% de Salas Climatizadas"},
  {c: 1, row: 0, pts: colPoints(0, integAt0).concat(colPoints(1, integAt1), pairPoints(integMid)),
   sx: integSmoothX, sy: integSmoothY, ticks: fracTicks, fmt: d3.format(".2f"), xlab: "% matrículas em tempo integral"},
  {c: 2, row: 0, pts: colPoints(0, psicAt0).concat(pairPoints(psicMid)),
   sx: psicSmoothX, sy: psicSmoothY, ticks: psicTicks, fmt: d3.format(".3f"), xlab: "Psicólogos por aluno"},
  {c: 0, row: 1, pts: colsPoints(compCore).concat(pairPoints(compMid)),
   sx: compSmoothX, sy: compSmoothY, ticks: compTicks, fmt: d3.format(".1f"), xlab: "Computadores por aluno"},
  {c: 1, row: 1, pts: colsPoints(regCols),
   sx: regSmoothX, sy: regSmoothY, ticks: regTicks, fmt: d3.format("d"), xlab: "Índice de Regularidade Docente"},
  {c: 2, row: 1, pts: colsPoints(iseCols),
   sx: iseSmoothX, sy: iseSmoothY, ticks: iseTicks, fmt: d3.format(".1f"), xlab: "Índice Socioeconômico"}
];

var allY = [];
scatPanels.forEach(function(p) { p.pts.forEach(function(d) { allY.push(d.y); }); });
var yDomain = expand(d3.extent(allY));
var rowTop = [463, 909.3], rowBottom = [831.7, 1277.7];

scatPanels.forEach(function(p) {
  var l = scatLeft[p.c], r = colRight[p.c], t = rowTop[p.row], b = rowBottom[p.row];
  var x = d3.scaleLinear().domain(expand(d3.extent(p.pts, function(d) { return d.x; }))).range([l, r]);
  var y = d3.scaleLinear().domain(yDomain).range([b, t]);
  var g = svg.append("g").attr("clip-path", clipFor(l, t, r, b));
  g.selectAll("circle").data(p.pts).join("circle")
    .attr("cx", function(d) { return x(d.x); })
    .attr("cy", function(d) { return y(d.y); })
    .attr("r", 5.3).attr("fill", RED).attr("fill-opacity", 0.5);
  var line = d3.line().x(function(d, i) { return x(p.sx[i]); })
    .y(function(d) { return y(d); }).curve(d3.curveCatmullRom);
  g.append("path").attr("d", line(p.sy)).attr("fill", "none")
    .attr("stroke", BLUE).attr("stroke-width", 3.6).attr("stroke-linecap", "round");
  frame(l, t, r, b);
  axes(x, y, p.ticks, p.fmt, notaTicks, d3.format("d"), l, b);
  labels(p.c, l, r, t, b, p.xlab, "Nota Saeb");
});
</script>
</body>
</html>
